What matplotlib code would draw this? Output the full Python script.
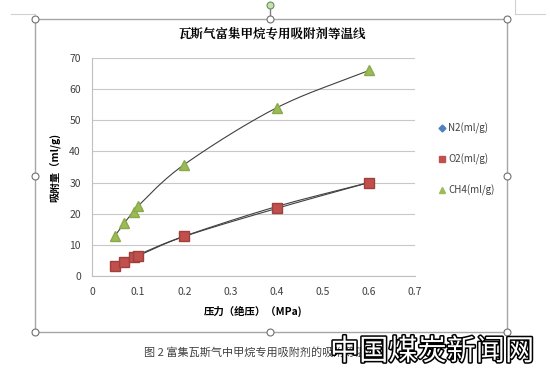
import numpy as np
import matplotlib
matplotlib.use("Agg")
from matplotlib import pyplot as plt
from matplotlib.lines import Line2D
import matplotlib.patheffects as pe

plt.rcParams['font.family'] = ['Noto Sans CJK SC', 'DejaVu Sans']

# data
pressure = [0.05, 0.07, 0.09, 0.10, 0.20, 0.40, 0.60]
n2 = [3.3, 4.6, 6.2, 6.8, 12.8, 22.3, 30.0]
o2 = [3.3, 4.5, 6.0, 6.5, 12.7, 21.7, 30.0]
ch4 = [13.0, 17.0, 20.7, 22.5, 35.8, 54.0, 66.0]
series_names = ["N2(ml/g)", "O2(ml/g)", "CH4(ml/g)"]
x_ticks = [0, 0.1, 0.2, 0.3, 0.4, 0.5, 0.6, 0.7]
y_ticks = [0, 10, 20, 30, 40, 50, 60, 70]


def smooth(x, y, n=30):
    # catmull-rom, like the "smoothed line" option in a spreadsheet
    x = np.asarray(x, float)
    y = np.asarray(y, float)
    px = np.concatenate([[2 * x[0] - x[1]], x, [2 * x[-1] - x[-2]]])
    py = np.concatenate([[2 * y[0] - y[1]], y, [2 * y[-1] - y[-2]]])
    t = np.linspace(0, 1, n)
    xs, ys = [], []
    for i in range(1, len(px) - 2):
        for p, out in ((px, xs), (py, ys)):
            p0, p1, p2, p3 = p[i - 1], p[i], p[i + 1], p[i + 2]
            out.append(0.5 * (2 * p1 + (-p0 + p2) * t
                              + (2 * p0 - 5 * p1 + 4 * p2 - p3) * t ** 2
                              + (-p0 + 3 * p1 - 3 * p2 + p3) * t ** 3))
    return np.concatenate(xs), np.concatenate(ys)


fig = plt.figure(figsize=(5.5, 3.81), dpi=100)
W, H = 550.0, 381.0

# chart frame with the selection handles
frame_col = "#a6a6a6"
l, r, t, b = 35 / W, 507 / W, 1 - 19 / H, 1 - 332 / H
fig.add_artist(Line2D([l, r, r, l, l], [t, t, b, b, t], color=frame_col, lw=1.0))
fig.add_artist(Line2D([270 / W, 270 / W], [t, 1 - 5 / H], color="#808080", lw=1.0))
fig.add_artist(Line2D([0.02, l], [1 - 14 / H, 1 - 14 / H], color="#d0d0d0", lw=0.8))
fig.add_artist(Line2D([515 / W, 515 / W], [1 - 0 / H, 1 - 14 / H], color="#d0d0d0", lw=0.8))
fig.add_artist(Line2D([515 / W, 545 / W], [1 - 14 / H, 1 - 14 / H], color="#d0d0d0", lw=0.8))
hx = [l, 270 / W, r, l, r, l, 270 / W, r]
hy = [t, t, t, 1 - 176 / H, 1 - 176 / H, b, b, b]
fig.add_artist(Line2D(hx, hy, ls="none", marker="o", ms=5, mfc="white",
                      mec="#707070", mew=0.8))
fig.add_artist(Line2D([270 / W], [1 - 5 / H], ls="none", marker="o", ms=5,
                      mfc="#c6e0b4", mec="#6a8f5a", mew=0.8))

ax = fig.add_axes([92 / W, 1 - 276 / H, 323 / W, 218 / H])

ax.plot(*smooth(pressure, n2), color="#404040", lw=0.8, zorder=2)
ax.plot(*smooth(pressure, o2), color="#404040", lw=0.8, zorder=2)
ax.plot(*smooth(pressure, ch4), color="#404040", lw=0.8, zorder=2)
ax.plot(pressure, n2, ls="none", marker="D", ms=4, color="#4f81bd", zorder=3)
ax.plot(pressure, o2, ls="none", marker="s", ms=7, color="#c0504d",
        mec="#a0403d", zorder=4)
ax.plot(pressure, ch4, ls="none", marker="^", ms=7, color="#9bbb59",
        mec="#8aaa48", zorder=4)

ax.set_xlim(0, 0.7)
ax.set_ylim(0, 70)
ax.set_xticks(x_ticks)
ax.set_xticklabels(["0"] + [str(v) for v in x_ticks[1:]])
ax.set_yticks(y_ticks)
ax.tick_params(length=0, labelsize=7.5, colors="#404040", pad=8)
ax.grid(axis="y", color="#c8c8c8", lw=0.8)
ax.set_axisbelow(True)
for s in ["top", "right"]:
    ax.spines[s].set_visible(False)
ax.spines["left"].set_color("#bfbfbf")
ax.spines["bottom"].set_color("#bfbfbf")

ax.set_xlabel("压力（绝压）（MPa)", fontsize=7.5, fontweight="bold", labelpad=6)
ax.set_ylabel("吸附量（ml/g)", fontsize=7.5, fontweight="bold", labelpad=6)
fig.text(272 / W, 1 - 33 / H, "瓦斯气富集甲烷专用吸附剂等温线", ha="center",
         va="center", fontsize=9, fontweight="bold", family=["Noto Serif CJK SC", "Noto Sans CJK SC"])

# legend
leg_markers = [("D", "#4f81bd", 3.5), ("s", "#c0504d", 5), ("^", "#9bbb59", 5)]
for i, name in enumerate(series_names):
    yy = 1 - (128 + 31 * i) / H
    m, c, ms = leg_markers[i]
    fig.add_artist(Line2D([442 / W], [yy], ls="none", marker=m, ms=ms, color=c))
    fig.text(448 / W, yy, name, fontsize=7, va="center", color="#404040")

fig.text(144 / W, 1 - 352 / H, "图 2 富集瓦斯气中甲烷专用吸附剂的吸附等温线",
         fontsize=8, va="center", color="#404040")
fig.text(330 / W, 1 - 352 / H, "中国煤炭新闻网", fontsize=21, va="center",
         color="white", path_effects=[pe.withStroke(linewidth=2.2, foreground="black")])

fig.savefig("out.png", dpi=100)
